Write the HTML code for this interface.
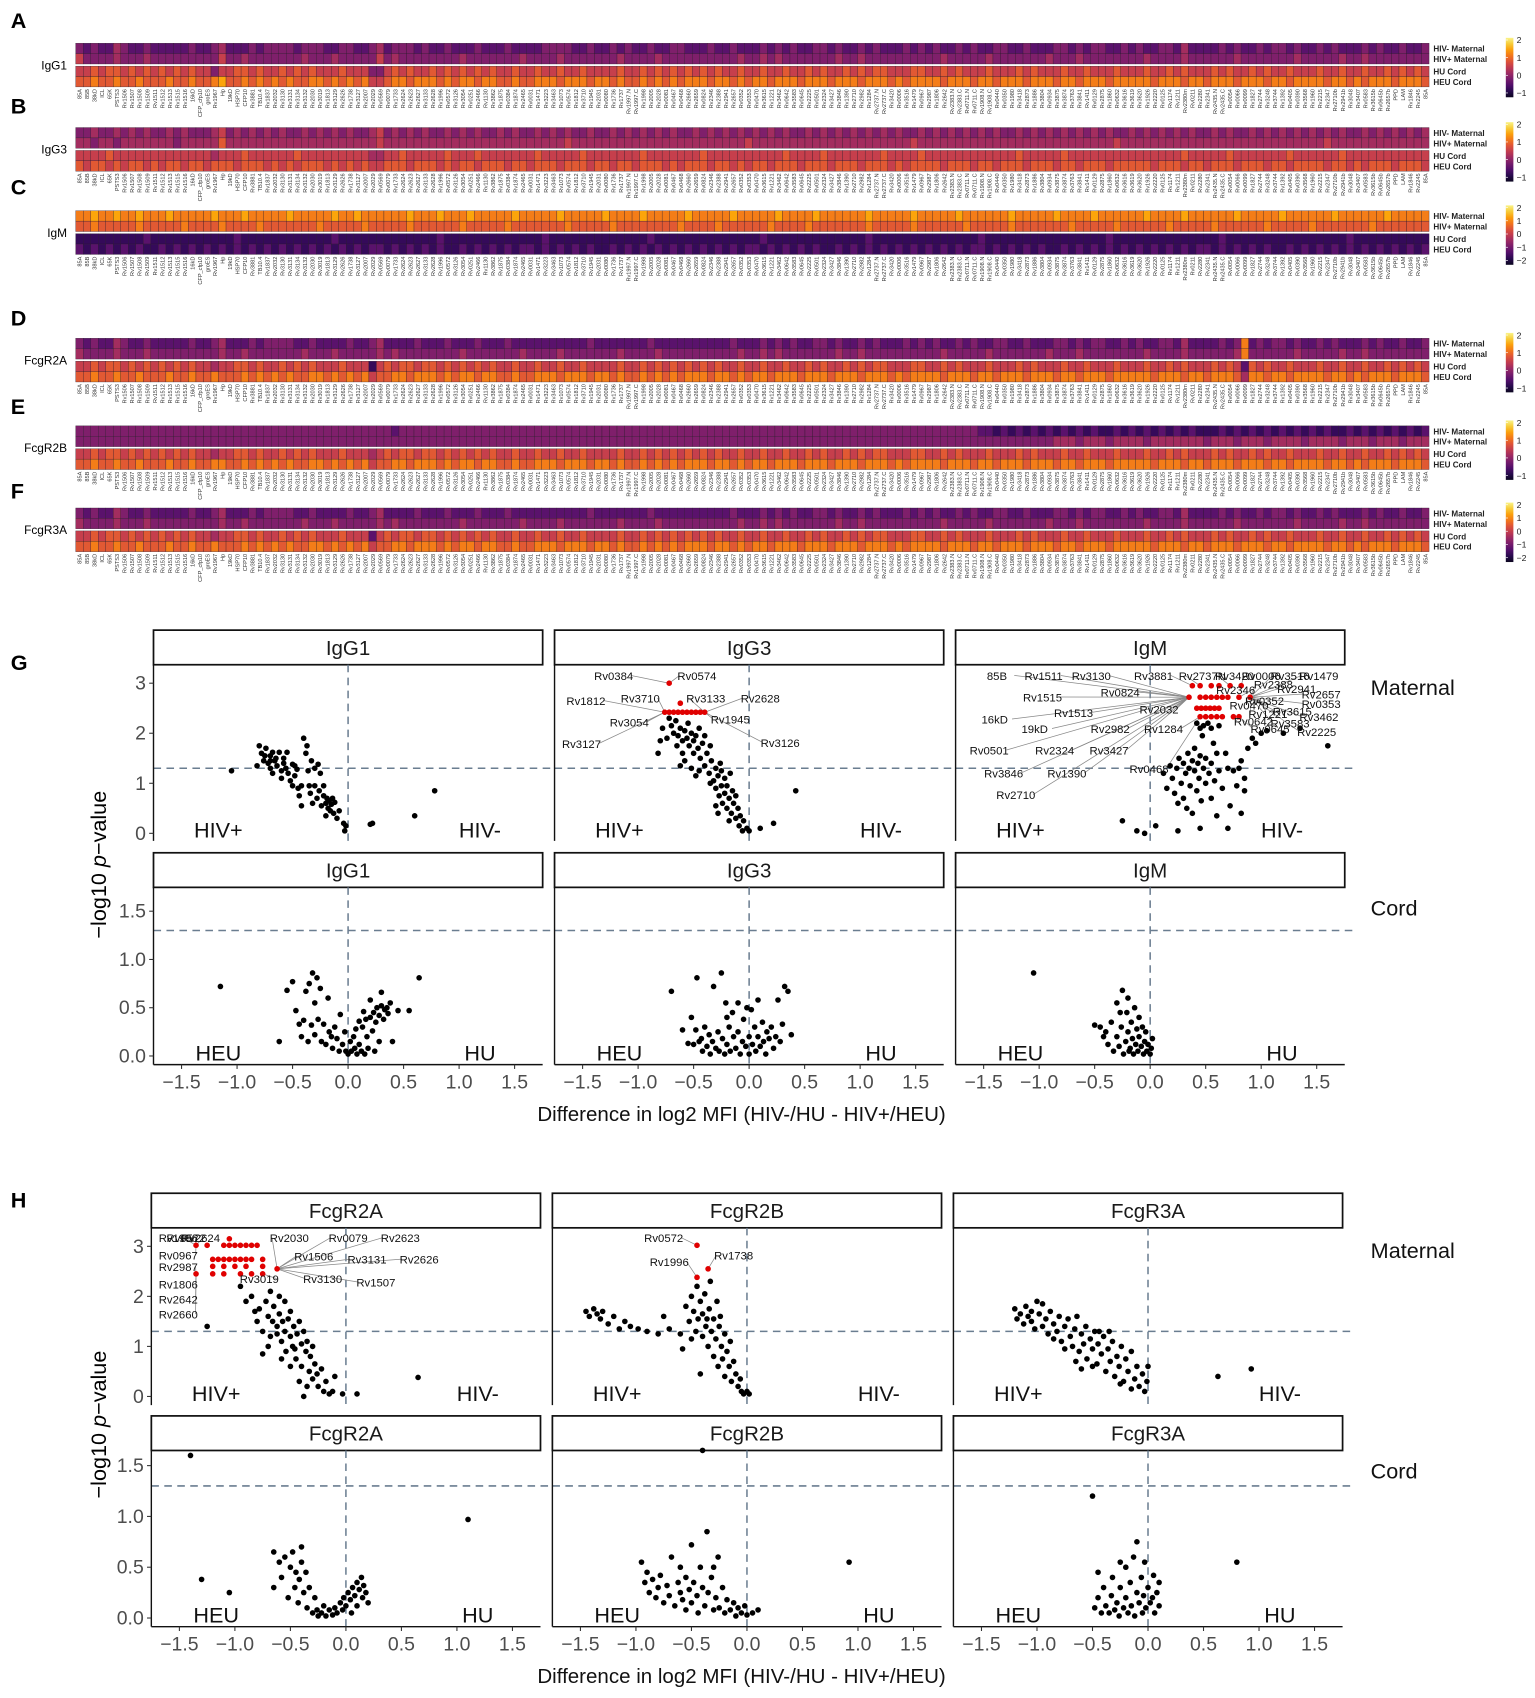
<!DOCTYPE html>
<html><head><meta charset="utf-8">
<style>
html,body{margin:0;padding:0;background:#fff;}
svg{display:block;font-family:"Liberation Sans",Arial,sans-serif;}
</style></head>
<body>
<svg id="fig" xmlns="http://www.w3.org/2000/svg" width="1535" height="1698" viewBox="0 0 1420 1571" preserveAspectRatio="none">
<rect x="0" y="0" width="1420" height="1571" fill="#fff"/>
</svg>
<script>
// ---------- Heatmap data (digit = colour level 0..9) ----------
const igg1Rows = [
"3232243223 2222232234 2223233332 3332233223 4233323223 2223222322 2233332232 2323223223 3222322322 2323232233 2322323222 3232322323 2233223222 3323233223 2322332422 2232322323 3232232322 2323223223",
"5333343334 3333333335 3343333333 4333433333 5343333333 3433333334 3333433333 3343333433 3333333343 3434333333 3433433333 3333343333 3433333334 3334333333 3343333433 3333433333 3343333343 3433333333",
"5565665656 5656565535 5665655656 5655565553 3565655656 5656565565 5655655655 5565565656 5656565565 5655655656 5565656655 5665565655 5655565655 5655655565 5565565655 5656556565 5655565565 5655656565",
"6676676676 6676676678 6676767676 6776767675 5677677767 6776776676 6777677767 7676676767 6777677676 7767776777 6777677767 6777767776 7767776777 6776777677 7776777677 6777677767 7677776776 7677767776"];
const igg3Rows = [
"3343343434 3343433345 3434343433 4343434334 5343434334 3434334343 3434343343 3434343434 3343434343 4343433434 3434343434 3343434343 4343343434 3434343433 4343434343 3434334343 4343434343 3434343434",
"4434434444 4443444446 4444444444 4444444444 5444444444 4444444444 4444454444 4444444444 4444444445 4444444444 4444444444 4544444444 4444444444 4444444454 4444444444 4444444444 4444445444 4444444444",
"5555655555 5555555545 5565555556 5555555554 4556555556 5556555555 5655555655 5555565555 5556555555 5555655556 5555555655 5565555555 5555565555 5655555555 5555555655 5556555555 5655555565 5555555555",
"6566565665 6566566566 6566656565 6665656565 5666566656 5665666566 5666566656 6566566656 5666566565 6656665666 5666566656 5666656665 6656665666 5665666566 6665666566 5666566656 6566665665 6566656665"];
const igmRows = [
"7787787787 7787777787 7787777787 7777877877 7777877787 7787777787 7777877777 8777787777 7877777877 7778777787 7777787777 7877777877 7777877777 8777787777 7787777877 7777877777 8777777877 7777877777",
"6676666676 6666766667 6666766666 6676666676 6666766666 6766666766 6666676666 6766666666 7666676666 6676666766 6666676666 6766666676 6666766666 6676666676 6666676666 6766666676 6666766666 6676666666",
"1111111112 1111111111 1211111111 1111211111 1111111121 1111111111 1121111111 1111112111 1111111111 1211111111 1111121111 1111111111 2111111111 1111111211 1111111111 1121111111 1111111112 1111111111",
"2121212121 1212121212 1212121212 1212121212 2121212121 1212121212 2121212121 1212121212 1212121212 2121212121 1212121212 1212121212 2121212121 1212121212 1212121212 2121212121 1212121212 1212121212"];
const r2aRows = [
"3232243223 2222232234 2223233332 2322223223 4222232223 2223222322 2222222232 2222223222 2222222322 2323232233 2322323222 3232322323 2233223222 3323233223 2322332422 2232372323 3232232322 2323223223",
"4333343334 3333333334 3343333333 4333433333 4343333333 3433333334 3333433333 3343333433 3333333343 3434333333 3433433333 3333343333 3433333334 3334333333 3343333433 3333473333 3343333343 3433333333",
"5565665656 5656565545 5665655656 5655565551 5656656656 5656565565 5655655655 5565565656 5656565565 5655655656 5565656655 5665565655 5655565655 5655655565 5565565655 5656526565 5655565565 5655656565",
"6676676676 6676676676 6676767676 6776767675 6677677767 6776776676 6777677767 7676676767 6777677676 7767776777 6777677767 6777767776 7767776777 6776777677 7776777677 6777647767 7677776776 7677767776"];
const r2bRows = [
"3333333333 3333333333 3333333333 3333333333 3323333333 3333333333 3333333333 3333333333 3333333333 3333333333 3333333333 3333333333 2212121212 1212121121 2121212121 1121212121 2121212112 1212121212",
"3333333333 3333333333 3333333333 3333333333 3333333333 3333333333 3333333333 3333333333 3333333333 3333333333 3333333333 3333333333 3333333333 4443444344 4434444444 3444344434 4443444434 4434443444",
"5565665656 5656565545 5665655656 5655565554 5656656656 5656565565 5655655655 5565565656 5656565565 5655655656 5565656655 5665565655 5655565655 5655655565 5565565655 5656556565 5655565565 5655656565",
"6676676676 6676676677 6676767676 6776767675 6677677767 6776776676 6777677767 7676676767 6777677676 7767776777 6777677767 6777767776 7767776777 6776777677 7776777677 6777677767 7677776776 7677767776"];
const r3aRows = [
"3232243223 2222232234 2223233332 2322223223 4222232223 2223222322 2222222232 2222223222 2222222322 2323232233 2322323222 3232322323 2233223222 3323233223 2322332422 2232322323 3232232322 2323223223",
"4333343334 3333333334 3343333333 4333433333 4343333333 3433333334 3333433333 3343333433 3333333343 3434333333 3433433333 3333343333 3433333334 3334333333 3343333433 3333433333 3343333343 3433333333",
"5565665656 5656565545 5665655656 5655565552 5656656656 5656565565 5655655655 5565565656 5656565565 5655655656 5565656655 5665565655 5655565655 5655655565 5565565655 5656556565 5655565565 5655656565",
"6676676676 6676676676 6676767676 6776767675 6677677767 6776776676 6777677767 7676676767 6777677676 7767776777 6777677767 6777767776 7767776777 6776777677 7776777677 6777677767 7677776776 7677767776"];
const antigens = ["85A","85B","38kD","ICL","65K","PSTS3","Rv1506","Rv1507","Rv1508","Rv1509","Rv1511","Rv1512","Rv1513","Rv1515","Rv1516","16kD","CFP_cfp10","groES","Rv1967","Hp","19kD","HSP70","CFP10","Rv3881","TB10.4","Rv1837","Rv2032","Rv3130","Rv3131","Rv3134","Rv3132","Rv2030","Rv3019","Rv1813","Rv3129","Rv2626","Rv1738","Rv3127","Rv2007","Rv2029","Rv0569","Rv0079","Rv1733","Rv2624","Rv2623","Rv2627","Rv3133","Rv2628","Rv1996","Rv0572","Rv3126","Rv3054","Rv0251","Rv2466","Rv1130","Rv3862","Rv1875","Rv0384","Rv1874","Rv2465","Rv0031","Rv1471","Rv3223","Rv3463","Rv1073","Rv0574","Rv1812","Rv3710","Rv1945","Rv2031","Rv0080","Rv1736","Rv1737","Rv1997.N","Rv1997.C","Rv1998","Rv2005","Rv2028","Rv0081","Rv0467","Rv0468","Rv2660","Rv2659","Rv0824","Rv2346","Rv2388","Rv2941","Rv2657","Rv0352","Rv0353","Rv0470","Rv3615","Rv1221","Rv3462","Rv0642","Rv3583","Rv0645","Rv2225","Rv0501","Rv2324","Rv3427","Rv3846","Rv1390","Rv2710","Rv2982","Rv1284","Rv2737.N","Rv2737.C","Rv3420","Rv0006","Rv3516","Rv1479","Rv0967","Rv2987","Rv1806","Rv2642","Rv2383.N","Rv2383.C","Rv0711.N","Rv0711.C","Rv1908.N","Rv1908.C","Rv0440","Rv0350","Rv1980","Rv3418","Rv2873","Rv1886","Rv3804","Rv0934","Rv3875","Rv3874","Rv3763","Rv3841","Rv1411","Rv0129","Rv2875","Rv1860","Rv0632","Rv3616","Rv3619","Rv3620","Rv1926","Rv2220","Rv0125","Rv1174","Rv1211","Rv2380m","Rv0211","Rv2280","Rv2341","Rv2435.N","Rv2435.C","Rv0054","Rv0066","Rv0099","Rv1827","Rv2744","Rv3248","Rv3744","Rv1392","Rv0405","Rv0390","Rv3568","Rv1960","Rv2215","Rv2347","Rv2710b","Rv2941b","Rv3048","Rv3407","Rv0583","Rv3615b","Rv0645b","Rv2657b","PPD","LAM","Rv1846","Rv2245"];
const panelsHM = [
 {id:"A",name:"IgG1",top:40,rows:igg1Rows,cb:["2","1","0","−1"]},
 {id:"B",name:"IgG3",top:118,rows:igg3Rows,cb:["2","1","0","−1"]},
 {id:"C",name:"IgM",top:195,rows:igmRows,cb:["2","1","0","−1","−2"]},
 {id:"D",name:"FcgR2A",top:313,rows:r2aRows,cb:["2","1","0","−1"]},
 {id:"E",name:"FcgR2B",top:394,rows:r2bRows,cb:["2","1","0","−1"]},
 {id:"F",name:"FcgR3A",top:470,rows:r3aRows,cb:["2","1","0","−1","−2"]}];
const rowNames = ["HIV- Maternal","HIV+ Maternal","HU Cord","HEU Cord"];
const panelLetterY = {A:18,B:97,C:172,D:293,E:375,F:453};

// ---------- Volcano data ----------
const igg1Mat=[[-1.05,1.25],[-0.82,1.35],[-0.8,1.75],[-0.78,1.6],[-0.76,1.45],[-0.74,1.7],[-0.72,1.4],[-0.7,1.55],[-0.7,1.3],[-0.68,1.2],[-0.66,1.45],[-0.64,1.35],[-0.62,1.62],[-0.6,1.25],[-0.6,1.1],[-0.58,1.5],[-0.56,1.3],[-0.55,1.62],[-0.54,1.2],[-0.52,1.05],[-0.5,1.38],[-0.5,0.95],[-0.48,1.15],[-0.46,1.28],[-0.45,0.9],[-0.44,0.75],[-0.42,0.55],[-0.42,0.95],[-0.4,1.9],[-0.38,1.6],[-0.37,1.75],[-0.36,1.25],[-0.35,0.95],[-0.34,0.8],[-0.33,1.45],[-0.32,0.6],[-0.3,1.3],[-0.3,0.95],[-0.28,0.7],[-0.27,1.38],[-0.26,0.85],[-0.25,1.2],[-0.24,0.55],[-0.22,0.75],[-0.22,0.95],[-0.2,0.6],[-0.2,0.35],[-0.19,0.7],[-0.18,0.5],[-0.17,0.65],[-0.16,0.45],[-0.15,0.58],[-0.14,0.7],[-0.13,0.4],[-0.12,0.62],[-0.1,0.3],[-0.08,0.45],[-0.04,0.2],[-0.03,0.05],[-0.02,0.15],[0.2,0.18],[0.22,0.2],[0.6,0.35],[0.78,0.85],[-0.75,1.55],[-0.65,1.5],[-0.58,1.4],[-0.48,1.35],[-0.7,1.45],[-0.68,1.62]];
const igg3Mat=[[-0.72,2.3],[-0.7,2.15],[-0.68,2.0],[-0.66,2.25],[-0.64,1.95],[-0.62,2.1],[-0.6,1.85],[-0.58,2.05],[-0.56,1.9],[-0.55,2.2],[-0.54,1.75],[-0.52,2.0],[-0.5,1.85],[-0.5,1.6],[-0.48,1.95],[-0.46,1.7],[-0.45,2.1],[-0.44,1.5],[-0.42,1.8],[-0.4,1.95],[-0.4,1.35],[-0.38,1.6],[-0.36,1.2],[-0.35,1.75],[-0.34,1.45],[-0.32,1.05],[-0.3,1.3],[-0.3,0.9],[-0.28,1.15],[-0.27,0.75],[-0.26,1.4],[-0.25,0.95],[-0.24,0.6],[-0.22,1.1],[-0.22,0.8],[-0.2,0.5],[-0.2,0.95],[-0.18,0.7],[-0.17,1.2],[-0.16,0.4],[-0.15,0.85],[-0.14,0.6],[-0.12,0.3],[-0.12,0.75],[-0.1,0.5],[-0.09,0.15],[-0.08,0.35],[-0.06,0.05],[-0.05,0.25],[-0.02,0.1],[0.0,0.05],[0.1,0.1],[0.22,0.2],[0.42,0.85],[-0.8,1.85],[-0.82,1.6],[-0.78,2.1],[-0.74,1.9],[-0.65,1.75],[-0.6,1.6],[-0.58,1.45],[-0.52,1.3],[-0.35,1.0],[-0.3,0.55],[-0.28,0.4],[-0.25,1.25],[-0.18,0.25],[-0.45,1.25],[-0.48,1.15],[-0.62,1.35]];
const igg3Red=[[-0.72,3.0],[-0.62,2.6],[-0.76,2.42],[-0.72,2.42],[-0.68,2.42],[-0.64,2.42],[-0.6,2.42],[-0.56,2.42],[-0.52,2.42],[-0.48,2.42],[-0.44,2.42],[-0.4,2.42]];
const igg3LabNames=["Rv0384","Rv0574","Rv1812","Rv3710","Rv3133","Rv2628","Rv3054","Rv1945","Rv3127","Rv3126"];
const igg3LabPos=[[-1.22,3.09],[-0.47,3.09],[-1.47,2.59],[-0.98,2.64],[-0.39,2.64],[0.10,2.64],[-1.08,2.16],[-0.17,2.22],[-1.51,1.73],[0.28,1.75]];
const igmMat=[[0.12,1.2],[0.15,0.9],[0.18,1.35],[0.2,1.1],[0.22,0.8],[0.24,1.3],[0.25,0.6],[0.26,1.5],[0.28,1.0],[0.3,1.4],[0.3,0.7],[0.32,1.2],[0.33,0.5],[0.34,1.6],[0.35,1.3],[0.36,0.95],[0.38,1.45],[0.38,0.4],[0.4,1.25],[0.4,1.7],[0.42,0.85],[0.43,1.4],[0.44,1.1],[0.45,1.55],[0.46,0.65],[0.47,1.95],[0.48,1.3],[0.5,1.0],[0.5,1.5],[0.52,2.2],[0.53,1.2],[0.55,0.7],[0.55,1.4],[0.57,1.8],[0.58,1.05],[0.6,1.6],[0.6,0.35],[0.62,1.25],[0.65,0.9],[0.68,1.6],[0.7,1.3],[0.72,0.55],[0.75,1.25],[0.78,0.95],[0.8,1.3],[0.82,1.45],[0.82,0.4],[0.85,0.85],[0.85,1.1],[0.88,1.7],[0.92,1.9],[0.95,1.8],[1.0,2.0],[1.05,2.05],[1.2,2.0],[1.35,2.1],[1.6,1.75],[0.05,0.15],[0.25,0.05],[0.45,0.1],[0.7,0.1],[-0.25,0.25],[-0.12,0.05],[-0.05,0.0],[0.42,2.2],[0.45,2.1],[0.48,2.15],[0.55,2.1],[0.62,2.15]];
const igmRed=[[0.38,2.95],[0.45,2.95],[0.55,2.95],[0.62,2.95],[0.72,2.95],[0.82,2.95],[0.35,2.72],[0.45,2.72],[0.5,2.72],[0.55,2.72],[0.6,2.72],[0.65,2.72],[0.7,2.72],[0.8,2.72],[0.9,2.72],[0.42,2.5],[0.46,2.5],[0.5,2.5],[0.54,2.5],[0.58,2.5],[0.62,2.5],[0.45,2.33],[0.5,2.33],[0.55,2.33],[0.6,2.33],[0.65,2.33],[0.75,2.33],[0.8,2.33]];
const igmLabNames=["85B","Rv1511","Rv3130","Rv3881","Rv2737N","Rv3420","Rv0006","Rv3516","Rv1479","Rv0824","Rv2346","Rv2388","Rv2941","Rv2657","Rv1515","Rv0352","Rv0353","Rv1513","Rv2032","Rv0470","Rv3615","16kD","Rv1221","Rv3462","19kD","Rv2982","Rv1284","Rv0642","Rv3583","Rv0645","Rv2225","Rv0501","Rv2324","Rv3427","Rv0468","Rv3846","Rv1390","Rv2710"];
const igmLabPos=[[-1.38,3.09],[-0.96,3.09],[-0.53,3.09],[0.03,3.09],[0.47,3.09],[0.76,3.09],[1.0,3.09],[1.26,3.09],[1.52,3.09],[-0.27,2.76],[0.77,2.81],[1.11,2.92],[1.32,2.83],[1.54,2.72],[-0.97,2.66],[1.03,2.59],[1.54,2.53],[-0.69,2.35],[0.08,2.42],[0.89,2.5],[1.28,2.38],[-1.40,2.22],[1.06,2.33],[1.52,2.27],[-1.04,2.03],[-0.36,2.03],[0.12,2.03],[0.93,2.18],[1.26,2.14],[1.08,2.03],[1.5,1.97],[-1.45,1.6],[-0.86,1.6],[-0.37,1.6],[-0.01,1.23],[-1.32,1.14],[-0.75,1.14],[-1.21,0.71]];
const igg1Cord=[[-1.15,0.72],[-0.62,0.15],[-0.55,0.68],[-0.5,0.77],[-0.47,0.47],[-0.44,0.33],[-0.42,0.2],[-0.4,0.37],[-0.38,0.67],[-0.36,0.15],[-0.35,0.75],[-0.33,0.32],[-0.32,0.86],[-0.3,0.55],[-0.3,0.22],[-0.28,0.81],[-0.27,0.38],[-0.25,0.7],[-0.24,0.15],[-0.22,0.33],[-0.2,0.12],[-0.18,0.6],[-0.17,0.25],[-0.15,0.2],[-0.14,0.08],[-0.12,0.3],[-0.1,0.18],[-0.08,0.05],[-0.07,0.43],[-0.05,0.12],[-0.03,0.25],[-0.02,0.05],[0.0,0.02],[0.02,0.15],[0.03,0.05],[0.05,0.2],[0.06,0.08],[0.07,0.28],[0.08,0.02],[0.1,0.36],[0.1,0.12],[0.12,0.05],[0.13,0.3],[0.14,0.46],[0.15,0.02],[0.16,0.38],[0.17,0.2],[0.18,0.08],[0.2,0.4],[0.2,0.58],[0.22,0.26],[0.23,0.45],[0.24,0.05],[0.25,0.35],[0.26,0.5],[0.28,0.42],[0.28,0.15],[0.3,0.52],[0.3,0.66],[0.32,0.38],[0.33,0.48],[0.35,0.5],[0.36,0.44],[0.38,0.55],[0.4,0.15],[0.45,0.47],[0.55,0.47],[0.64,0.81]];
const igg3Cord=[[-0.7,0.67],[-0.6,0.27],[-0.55,0.13],[-0.52,0.4],[-0.5,0.12],[-0.48,0.27],[-0.47,0.81],[-0.43,0.18],[-0.42,0.05],[-0.4,0.3],[-0.38,0.1],[-0.36,0.22],[-0.35,0.02],[-0.33,0.15],[-0.32,0.72],[-0.3,0.08],[-0.28,0.25],[-0.27,0.05],[-0.25,0.86],[-0.24,0.18],[-0.22,0.02],[-0.21,0.55],[-0.2,0.12],[-0.18,0.3],[-0.17,0.05],[-0.15,0.45],[-0.14,0.2],[-0.12,0.08],[-0.1,0.55],[-0.1,0.25],[-0.08,0.02],[-0.06,0.15],[-0.05,0.38],[-0.03,0.1],[-0.02,0.5],[0.0,0.2],[0.0,0.02],[0.02,0.48],[0.03,0.12],[0.05,0.3],[0.06,0.05],[0.08,0.58],[0.08,0.2],[0.1,0.1],[0.12,0.35],[0.13,0.15],[0.15,0.02],[0.16,0.25],[0.18,0.18],[0.2,0.3],[0.22,0.08],[0.24,0.2],[0.26,0.58],[0.28,0.15],[0.3,0.33],[0.32,0.72],[0.35,0.67],[0.38,0.22],[-0.45,0.15],[-0.2,0.4]];
const igmCord=[[-1.05,0.86],[-0.45,0.3],[-0.42,0.2],[-0.4,0.25],[-0.38,0.12],[-0.35,0.35],[-0.33,0.05],[-0.3,0.2],[-0.3,0.55],[-0.28,0.1],[-0.26,0.3],[-0.25,0.68],[-0.24,0.02],[-0.22,0.15],[-0.21,0.45],[-0.2,0.6],[-0.2,0.25],[-0.18,0.08],[-0.17,0.35],[-0.16,0.18],[-0.15,0.02],[-0.14,0.5],[-0.13,0.12],[-0.12,0.28],[-0.11,0.05],[-0.1,0.2],[-0.1,0.4],[-0.08,0.1],[-0.07,0.3],[-0.06,0.02],[-0.05,0.15],[-0.04,0.25],[-0.03,0.05],[-0.02,0.12],[0.0,0.02],[0.01,0.08],[0.02,0.18],[-0.5,0.32],[-0.27,0.45],[-0.19,0.05]];
const r2aMat=[[-1.25,1.4],[-0.95,2.2],[-0.9,1.9],[-0.85,2.0],[-0.82,1.7],[-0.8,1.5],[-0.78,1.75],[-0.75,1.3],[-0.72,1.9],[-0.7,1.6],[-0.68,1.2],[-0.66,1.5],[-0.65,1.8],[-0.62,1.4],[-0.6,1.65],[-0.58,1.1],[-0.57,1.5],[-0.55,1.3],[-0.54,0.9],[-0.52,1.55],[-0.5,1.2],[-0.5,1.7],[-0.48,1.0],[-0.47,1.4],[-0.45,0.75],[-0.44,1.25],[-0.42,1.5],[-0.4,1.05],[-0.4,0.6],[-0.38,1.3],[-0.36,0.9],[-0.35,1.1],[-0.33,0.5],[-0.32,0.8],[-0.3,1.0],[-0.3,0.35],[-0.28,0.65],[-0.26,0.45],[-0.25,0.2],[-0.22,0.55],[-0.2,0.1],[-0.18,0.3],[-0.15,0.05],[-0.12,0.1],[-0.1,0.4],[-0.03,0.05],[0.1,0.05],[0.65,0.38],[-0.55,1.9],[-0.6,2.0],[-0.68,2.1],[-0.62,1.25],[-0.58,0.75],[-0.5,0.6],[-0.46,0.95],[-0.42,0.3],[-0.35,0.2],[-0.38,0.0],[-0.7,1.0],[-0.75,0.85]];
const r2aRed=[[-1.35,3.02],[-1.25,3.02],[-1.1,3.02],[-1.05,3.02],[-1.0,3.02],[-0.95,3.02],[-0.9,3.02],[-0.85,3.02],[-0.8,3.02],[-1.05,3.15],[-1.2,2.74],[-1.15,2.74],[-1.1,2.74],[-1.05,2.74],[-1.0,2.74],[-0.95,2.74],[-0.9,2.74],[-0.85,2.74],[-0.75,2.74],[-1.2,2.6],[-1.1,2.6],[-1.0,2.6],[-0.9,2.6],[-0.75,2.6],[-0.62,2.55],[-1.35,2.45],[-1.2,2.45],[-1.1,2.45],[-0.95,2.45],[-0.85,2.45],[-0.75,2.45]];
const r2aLabNames=["Rv1996","Rv0572","Rv2624","Rv2030","Rv0079","Rv2623","Rv0967","Rv1506","Rv3131","Rv2626","Rv2987","Rv3019","Rv3130","Rv1507","Rv1806","Rv2642","Rv2660"];
const r2aLabPos=[[-1.51,3.11],[-1.44,3.11],[-1.31,3.11],[-0.51,3.11],[0.02,3.11],[0.49,3.11],[-1.51,2.76],[-0.29,2.74],[0.19,2.68],[0.66,2.68],[-1.51,2.53],[-0.78,2.29],[-0.21,2.29],[0.27,2.22],[-1.51,2.18],[-1.51,1.88],[-1.51,1.58]];
const r2bMat=[[-1.45,1.7],[-1.42,1.6],[-1.38,1.75],[-1.35,1.65],[-1.32,1.55],[-1.3,1.7],[-1.25,1.45],[-1.2,1.6],[-1.15,1.35],[-1.1,1.5],[-1.05,1.4],[-0.98,1.35],[-0.9,1.3],[-0.8,1.25],[-0.75,1.6],[-0.7,1.35],[-0.6,1.25],[-0.55,1.8],[-0.52,1.5],[-0.5,2.0],[-0.48,1.7],[-0.46,1.3],[-0.45,2.2],[-0.44,1.55],[-0.42,1.9],[-0.4,1.2],[-0.4,1.65],[-0.38,2.05],[-0.37,1.4],[-0.35,1.0],[-0.34,1.75],[-0.32,1.3],[-0.3,1.55],[-0.3,0.8],[-0.28,1.15],[-0.27,1.9],[-0.26,0.6],[-0.25,1.4],[-0.23,1.0],[-0.22,0.75],[-0.2,1.25],[-0.2,0.4],[-0.18,0.9],[-0.16,0.6],[-0.15,1.1],[-0.14,0.3],[-0.12,0.7],[-0.1,0.45],[-0.08,0.2],[-0.06,0.35],[-0.05,0.1],[-0.03,0.05],[0.0,0.1],[0.02,0.05],[-0.5,1.15],[-0.58,0.95],[-0.42,0.45],[-0.36,1.55],[-0.33,2.3],[-0.24,1.6]];
const r2bRed=[[-0.45,3.02],[-0.35,2.55],[-0.45,2.38]];
const r2bLabNames=["Rv0572","Rv1996","Rv1738"];
const r2bLabPos=[[-0.75,3.11],[-0.70,2.63],[-0.12,2.76]];
const r3aMat=[[-1.2,1.75],[-1.18,1.55],[-1.15,1.65],[-1.12,1.45],[-1.1,1.8],[-1.08,1.6],[-1.05,1.5],[-1.02,1.35],[-1.0,1.9],[-0.98,1.65],[-0.95,1.4],[-0.92,1.55],[-0.9,1.25],[-0.88,1.7],[-0.85,1.45],[-0.82,1.3],[-0.8,1.6],[-0.78,1.1],[-0.75,1.4],[-0.72,1.55],[-0.7,1.2],[-0.68,1.0],[-0.66,1.35],[-0.64,1.6],[-0.62,0.9],[-0.6,1.25],[-0.58,1.05],[-0.56,1.4],[-0.55,0.75],[-0.52,1.15],[-0.5,0.95],[-0.48,1.3],[-0.46,0.65],[-0.45,1.05],[-0.42,0.85],[-0.4,1.2],[-0.38,0.5],[-0.36,0.95],[-0.34,0.7],[-0.32,1.1],[-0.3,0.4],[-0.28,0.8],[-0.26,0.6],[-0.24,1.0],[-0.22,0.3],[-0.2,0.75],[-0.18,0.5],[-0.15,0.9],[-0.12,0.35],[-0.1,0.6],[-0.08,0.2],[-0.05,0.45],[-0.03,0.1],[-0.01,0.3],[0.0,0.6],[0.63,0.4],[0.93,0.55],[-1.05,1.7],[-0.95,1.85],[-0.85,1.15],[-0.75,0.95],[-0.65,0.7],[-0.6,0.55],[-0.5,0.6],[-0.44,1.3],[-0.35,1.3],[-0.25,0.25],[-0.15,0.15]];
const r2aCord=[[-1.4,1.6],[-1.3,0.38],[-1.05,0.25],[-0.65,0.65],[-0.6,0.55],[-0.58,0.4],[-0.55,0.6],[-0.52,0.2],[-0.5,0.5],[-0.48,0.65],[-0.46,0.3],[-0.45,0.45],[-0.43,0.15],[-0.42,0.38],[-0.4,0.55],[-0.38,0.25],[-0.36,0.45],[-0.35,0.1],[-0.33,0.3],[-0.3,0.05],[-0.28,0.2],[-0.26,0.08],[-0.25,0.02],[-0.22,0.05],[-0.2,0.12],[-0.18,0.02],[-0.15,0.08],[-0.12,0.03],[-0.1,0.1],[-0.08,0.05],[-0.05,0.15],[-0.03,0.08],[-0.02,0.2],[0.0,0.12],[0.02,0.25],[0.04,0.18],[0.05,0.05],[0.06,0.3],[0.08,0.22],[0.1,0.35],[0.1,0.12],[0.12,0.28],[0.14,0.4],[0.15,0.2],[0.16,0.32],[0.18,0.25],[0.2,0.15],[-0.65,0.3],[-0.4,0.7],[1.1,0.97]];
const r2bCord=[[-0.95,0.55],[-0.92,0.35],[-0.9,0.45],[-0.88,0.25],[-0.85,0.38],[-0.82,0.2],[-0.8,0.3],[-0.78,0.42],[-0.75,0.15],[-0.72,0.32],[-0.7,0.22],[-0.68,0.6],[-0.65,0.12],[-0.62,0.35],[-0.6,0.25],[-0.58,0.18],[-0.55,0.4],[-0.55,0.08],[-0.52,0.28],[-0.5,0.72],[-0.5,0.15],[-0.48,0.35],[-0.45,0.22],[-0.44,0.05],[-0.42,0.5],[-0.4,0.3],[-0.4,1.65],[-0.38,0.12],[-0.36,0.85],[-0.35,0.25],[-0.32,0.4],[-0.3,0.08],[-0.28,0.2],[-0.26,0.6],[-0.25,0.1],[-0.22,0.3],[-0.2,0.05],[-0.18,0.18],[-0.15,0.08],[-0.12,0.15],[-0.1,0.02],[-0.08,0.1],[-0.05,0.05],[-0.02,0.12],[0.0,0.03],[0.05,0.05],[0.1,0.08],[-0.3,0.5],[-0.6,0.5],[0.92,0.55]];
const r3aCord=[[-0.5,1.2],[-0.48,0.1],[-0.45,0.2],[-0.42,0.05],[-0.4,0.3],[-0.38,0.12],[-0.35,0.05],[-0.33,0.22],[-0.32,0.4],[-0.3,0.08],[-0.28,0.15],[-0.26,0.02],[-0.25,0.3],[-0.22,0.1],[-0.2,0.5],[-0.2,0.2],[-0.18,0.05],[-0.16,0.35],[-0.15,0.12],[-0.13,0.6],[-0.12,0.02],[-0.1,0.25],[-0.1,0.75],[-0.08,0.15],[-0.06,0.4],[-0.05,0.05],[-0.04,0.22],[-0.03,0.55],[-0.02,0.1],[0.0,0.3],[0.02,0.15],[0.04,0.2],[0.05,0.42],[0.06,0.05],[0.08,0.25],[0.1,0.12],[0.1,0.35],[-0.45,0.45],[-0.25,0.55],[0.8,0.55]];
const xTickVals=[-1.5,-1.0,-0.5,0.0,0.5,1.0,1.5];
const xTickLabels=["−1.5","−1.0","−0.5","0.0","0.5","1.0","1.5"];
const matTicks=[0,1,2,3];
const matTickLabels=["0","1","2","3"];
const cordTicks=[0,0.5,1.0,1.5];
const cordTickLabels=["0.0","0.5","1.0","1.5"];
const sigThreshold=1.3;

// ---------- helpers ----------
const NS="http://www.w3.org/2000/svg";
const svg=document.getElementById("fig");
function el(tag,attrs,parent,text){const e=document.createElementNS(NS,tag);for(const k in attrs)e.setAttribute(k,attrs[k]);if(text!==undefined)e.textContent=text;(parent||svg).appendChild(e);return e;}
const inf=[[0,[0,0,4]],[0.1,[22,11,57]],[0.2,[66,10,104]],[0.3,[106,23,110]],[0.4,[147,38,103]],[0.5,[188,55,84]],[0.6,[221,81,58]],[0.7,[243,120,25]],[0.8,[252,165,10]],[0.9,[246,215,70]],[1,[252,255,164]]];
function inferno(t){t=Math.max(0,Math.min(1,t));for(let i=1;i<inf.length;i++){if(t<=inf[i][0]){const a=inf[i-1],b=inf[i],f=(t-a[0])/(b[0]-a[0]);const c=a[1].map((v,j)=>Math.round(v+(b[1][j]-v)*f));return `rgb(${c[0]},${c[1]},${c[2]})`;}}return "rgb(252,255,164)";}
function level(d){return 0.08+d*0.09;}

// defs gradient for colour bars
const defs=el("defs",{});
const grad=el("linearGradient",{id:"cbgrad",x1:"0",y1:"1",x2:"0",y2:"0"},defs);
for(let i=0;i<=10;i++){el("stop",{offset:(i*10)+"%","stop-color":inferno(0.05+i*0.092)},grad);}

// ---------- Heatmaps ----------
const hmX0=70,hmW=1252,rowH=9.6,gap=2;
panelsHM.forEach(p=>{
  const g=el("g",{});
  
  
  const lt=el("text",{x:10,y:panelLetterY[p.id]+8,"font-size":20,"font-weight":"bold"},svg,p.id);
  
  
  const rows=p.rows.map(s=>s.replace(/ /g,""));
  const N=rows[0].length;
  const cw=hmW/N;
  rows.forEach((s,ri)=>{
    const y=p.top+ri*rowH+(ri>=2?gap:0);
    for(let c=0;c<N;c++){
      const r=el("rect",{x:(hmX0+c*cw).toFixed(2),y:y.toFixed(2),width:cw.toFixed(2),height:rowH,fill:inferno(level(+s[c])),stroke:"#2a1a2a","stroke-width":0.3},g);
      
      
    }
    const rl=el("text",{x:1326,y:y+rowH/2+3,"font-size":7.5,"font-weight":"bold",fill:"#222"},g,rowNames[ri]);
    
    
  });
  const bottom=p.top+4*rowH+gap;
  const nl=el("text",{x:62,y:p.top+rowH*2+gap/2+4,"font-size":11,"text-anchor":"end"},g,p.name);
  
  
  for(let c=0;c<N;c++){
    const x=hmX0+c*cw+cw/2+2;
    const t=el("text",{x:x,y:bottom+2,"font-size":5.2,fill:"#333","text-anchor":"end",transform:`rotate(-90 ${x} ${bottom+2})`},g,antigens[c%antigens.length]);
    
    
  }
  // colour bar
  const cbTop=p.top-5,cbH=55;
  const cb=el("rect",{x:1393,y:cbTop,width:7,height:cbH,fill:"url(#cbgrad)"},g);
  
  
  const n=p.cb.length;
  p.cb.forEach((lab,i)=>{
    const yy=cbTop+2+i*(cbH-6)/(n-1);
    el("line",{x1:1393,x2:1395,y1:yy,y2:yy,stroke:"#fff","stroke-width":0.6},g);
    const t=el("text",{x:1403,y:yy+3,"font-size":8,fill:"#222"},g,lab);
    
    
  });
});

// ---------- Volcano panels ----------
const XS=102.7;
function volcano(c){
  const g=el("g",{});
  
  
  const W=360,x0=c.left+180;
  const sx=v=>x0+v*XS, sy=v=>c.y0-v*c.ys;
  const strip=el("rect",{x:c.left,y:c.stripTop,width:W,height:c.plotTop-c.stripTop,fill:"#fff",stroke:"#111","stroke-width":1.6},g);
  
  
  const st=el("text",{x:c.left+W/2,y:c.stripTop+(c.plotTop-c.stripTop)/2+7,"font-size":19,"text-anchor":"middle",fill:"#1a1a1a"},g,c.title);
  
  
  // reference lines
  const hl=el("line",{x1:c.left,x2:c.left+W+11,y1:sy(sigThreshold),y2:sy(sigThreshold),stroke:"#6a7d90","stroke-width":1.4,"stroke-dasharray":"7,5"},g);
  
  
  const vl=el("line",{x1:sx(0),x2:sx(0),y1:c.plotTop,y2:c.plotBot,stroke:"#6a7d90","stroke-width":1.4,"stroke-dasharray":"7,5"},g);
  
  
  // axes
  el("line",{x1:c.left,x2:c.left,y1:c.plotTop,y2:c.plotBot,stroke:"#111","stroke-width":1.3},g);
  if(c.first){
    c.ticks.forEach((v,i)=>{
      el("line",{x1:c.left-4,x2:c.left,y1:sy(v),y2:sy(v),stroke:"#333","stroke-width":1},g);
      const t=el("text",{x:c.left-7,y:sy(v)+6,"font-size":18,"text-anchor":"end",fill:"#4d4d4d"},g,c.tickLabels[i]);
      
      
    });
  }
  if(c.bottom){
    el("line",{x1:c.left,x2:c.left+W,y1:c.plotBot,y2:c.plotBot,stroke:"#111","stroke-width":1.3},g);
    xTickVals.forEach((v,i)=>{
      el("line",{x1:sx(v),x2:sx(v),y1:c.plotBot,y2:c.plotBot+4,stroke:"#333","stroke-width":1},g);
      const t=el("text",{x:sx(v),y:c.plotBot+22,"font-size":18,"text-anchor":"middle",fill:"#4d4d4d"},g,xTickLabels[i]);
      
      
    });
  }
  // group labels
  const l1=el("text",{x:c.left+60,y:c.y0+4,"font-size":20,"text-anchor":"middle",fill:"#111"},g,c.lt);
  
  
  const l2=el("text",{x:c.left+302,y:c.y0+4,"font-size":20,"text-anchor":"middle",fill:"#111"},g,c.rt);
  
  
  // label segments
  const red=c.red||[];
  if(c.labNames){
    c.labNames.forEach((nm,i)=>{
      const lx=sx(c.labPos[i][0]),ly=sy(c.labPos[i][1]);
      let best=null,bd=1e9;
      red.forEach(p=>{const d=Math.hypot(sx(p[0])-lx,sy(p[1])-ly);if(d<bd){bd=d;best=p;}});
      if(best){
        const ln=el("line",{x1:lx+(sx(best[0])>lx?16:-16),y1:ly-3,x2:sx(best[0]),y2:sy(best[1]),stroke:"#888","stroke-width":0.7},g);
        
        
      }
    });
  }
  c.pts.forEach(p=>{
    const d=el("circle",{cx:sx(p[0]),cy:sy(p[1]),r:2.6,fill:"#000"},g);
    
    
  });
  red.forEach(p=>{
    const d=el("circle",{cx:sx(p[0]),cy:sy(p[1]),r:2.6,fill:"#e00000"},g);
    
    
  });
  if(c.labNames){
    c.labNames.forEach((nm,i)=>{
      const t=el("text",{x:sx(c.labPos[i][0]),y:sy(c.labPos[i][1])+1,"font-size":10.5,"text-anchor":"middle",fill:"#111"},g,nm);
      
      
    });
  }
}
const gLefts=[142,513,884], hLefts=[140,511,882];
const gMat={stripTop:583,plotTop:615,plotBot:778,y0:771,ys:46.3,ticks:matTicks,tickLabels:matTickLabels,kind:"maternal",lt:"HIV+",rt:"HIV-"};
const gCord={stripTop:789,plotTop:821,plotBot:985,y0:977,ys:89.3,ticks:cordTicks,tickLabels:cordTickLabels,kind:"cord",lt:"HEU",rt:"HU",bottom:true};
const hMat={stripTop:1104,plotTop:1136,plotBot:1300,y0:1292,ys:46.3,ticks:matTicks,tickLabels:matTickLabels,kind:"maternal",lt:"HIV+",rt:"HIV-"};
const hCord={stripTop:1310,plotTop:1342,plotBot:1505,y0:1497,ys:94,ticks:cordTicks,tickLabels:cordTickLabels,kind:"cord",lt:"HEU",rt:"HU",bottom:true};
volcano(Object.assign({},gMat,{left:gLefts[0],first:true,title:"IgG1",pts:igg1Mat}));
volcano(Object.assign({},gMat,{left:gLefts[1],title:"IgG3",pts:igg3Mat,red:igg3Red,labNames:igg3LabNames,labPos:igg3LabPos}));
volcano(Object.assign({},gMat,{left:gLefts[2],title:"IgM",pts:igmMat,red:igmRed,labNames:igmLabNames,labPos:igmLabPos}));
volcano(Object.assign({},gCord,{left:gLefts[0],first:true,title:"IgG1",pts:igg1Cord}));
volcano(Object.assign({},gCord,{left:gLefts[1],title:"IgG3",pts:igg3Cord}));
volcano(Object.assign({},gCord,{left:gLefts[2],title:"IgM",pts:igmCord}));
volcano(Object.assign({},hMat,{left:hLefts[0],first:true,title:"FcgR2A",pts:r2aMat,red:r2aRed,labNames:r2aLabNames,labPos:r2aLabPos}));
volcano(Object.assign({},hMat,{left:hLefts[1],title:"FcgR2B",pts:r2bMat,red:r2bRed,labNames:r2bLabNames,labPos:r2bLabPos}));
volcano(Object.assign({},hMat,{left:hLefts[2],title:"FcgR3A",pts:r3aMat}));
volcano(Object.assign({},hCord,{left:hLefts[0],first:true,title:"FcgR2A",pts:r2aCord}));
volcano(Object.assign({},hCord,{left:hLefts[1],title:"FcgR2B",pts:r2bCord}));
volcano(Object.assign({},hCord,{left:hLefts[2],title:"FcgR3A",pts:r3aCord}));

// section letters, facet row labels, axis titles
[["G",620],["H",1117]].forEach(([L,y])=>{
  const t=el("text",{x:10,y:y,"font-size":20,"font-weight":"bold"},svg,L);
  
  
});
[["Maternal",643],["Cord",847],["Maternal",1164],["Cord",1368]].forEach(([L,y])=>{
  const t=el("text",{x:1268,y:y,"font-size":20,fill:"#111"},svg,L);
  
  
});
[[800,1037],[1318,1557]].forEach(([cy,ty])=>{
  const yt=el("text",{x:98,y:cy,"font-size":20,"text-anchor":"middle",transform:`rotate(-90 98 ${cy})`},svg);
  
  
  el("tspan",{},yt,"−log10 ");
  el("tspan",{"font-style":"italic"},yt,"p");
  el("tspan",{},yt,"−value");
  const xt=el("text",{x:686,y:ty,"font-size":19,"text-anchor":"middle",fill:"#111"},svg,"Difference in log2 MFI (HIV-/HU - HIV+/HEU)");
  
  
});
</script>
</body></html>
